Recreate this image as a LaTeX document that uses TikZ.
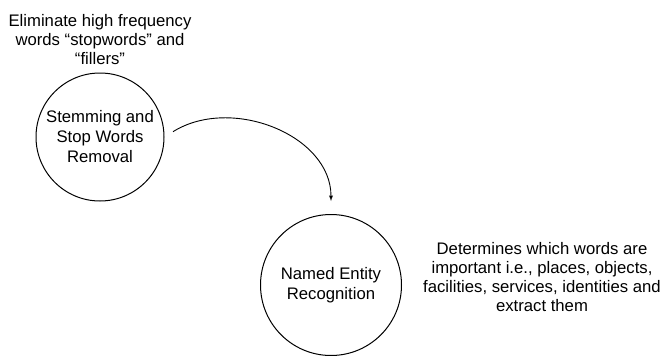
\documentclass[tikz,border=0pt]{standalone}
\usepackage{fontspec}
\setmainfont{Liberation Sans}
\usepackage{tikz}
\usetikzlibrary{arrows,calc}

\begin{document}
\begin{tikzpicture}[x=1pt,y=-1pt,
  stage/.style={draw,circle,line width=1pt,inner sep=0pt,align=center,font=\fontsize{16.7}{20}\selectfont},
  note/.style={align=center,font=\fontsize{16.7}{19}\selectfont}]
\useasboundingbox (0,0) rectangle (662,356);
\node[stage,minimum size=128pt] (stem) at (100,137) {Stemming and\\Stop Words\\Removal};
\node[stage,minimum size=141pt] (ner) at (331,285) {Named Entity\\Recognition};
\node[note] (stemnote) at (100,40) {Eliminate high frequency\\words “stopwords” and\\“fillers”};
\node[note] (nernote) at (542,277) {Determines which words are\\important i.e., places, objects,\\facilities, services, identities and\\extract them};
\draw[-latex,line width=0.9pt,shorten <=10pt,shorten >=13pt] (stem.east) to[out=32,in=90,looseness=1.1] (ner.north);
\end{tikzpicture}
\end{document}
